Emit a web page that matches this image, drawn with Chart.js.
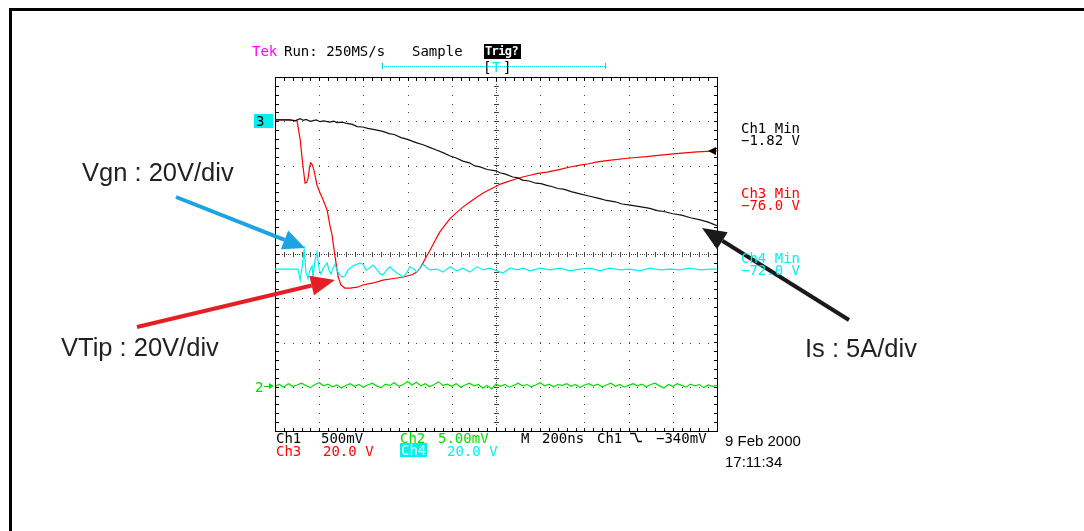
<!DOCTYPE html>
<html>
<head>
<meta charset="utf-8">
<script src="https://cdn.jsdelivr.net/npm/chart.js@4.4.1/dist/chart.umd.min.js"></script>
<style>
  html, body { margin: 0; padding: 0; background: #fff; }
  #wrap { position: relative; width: 1084px; height: 531px; overflow: hidden; }
  canvas { position: absolute; left: 0; top: 0; }
  .t { position: absolute; white-space: pre; line-height: 1; }
  .s { font-family: "DejaVu Sans Mono", monospace; font-size: 14px; color: #000; }
  .a { font-family: "Liberation Sans", Arial, sans-serif; font-size: 25.5px; color: #231f20; }
  .d { font-family: "Liberation Sans", Arial, sans-serif; font-size: 15px; color: #000; }
</style>
</head>
<body>
<div id="wrap">
  <canvas id="scope" width="1084" height="531"></canvas>

  <!-- scope header -->
  <div class="t s" style="left:252px;top:44px;color:#ff00ff">Tek</div>
  <div class="t s" style="left:284px;top:44px">Run: 250MS/s</div>
  <div class="t s" style="left:412px;top:44px">Sample</div>
  <div class="t s" style="left:484px;top:44px;width:37px;height:15px;background:#000;color:#fff;font-weight:bold;font-size:12px;letter-spacing:-0.6px;padding:1px 0 0 1px;box-sizing:border-box">Trig?</div>
  <div class="t s" style="left:483px;top:60px">[</div>
  <div class="t s" style="left:492px;top:60px;color:#00e5ee">T</div>
  <div class="t s" style="left:503px;top:60px">]</div>

  <!-- channel readouts on the right -->
  <div class="t s" style="left:741px;top:121px">Ch1 Min</div>
  <div class="t s" style="left:741px;top:133px">−1.82 V</div>
  <div class="t s" style="left:741px;top:186px;color:#ff0000">Ch3 Min</div>
  <div class="t s" style="left:741px;top:198px;color:#ff0000">−76.0 V</div>
  <div class="t s" style="left:741px;top:251px;color:#00f0f0">Ch4 Min</div>
  <div class="t s" style="left:741px;top:263px;color:#00f0f0">−72.0 V</div>

  <!-- bottom status lines -->
  <div class="t s" style="left:276px;top:431px">Ch1</div>
  <div class="t s" style="left:321px;top:431px">500mV</div>
  <div class="t s" style="left:400px;top:431px;color:#00dd00">Ch2</div>
  <div class="t s" style="left:438px;top:431px;color:#00dd00">5.00mV</div>
  <div class="t s" style="left:521px;top:431px">M</div>
  <div class="t s" style="left:542px;top:431px">200ns</div>
  <div class="t s" style="left:597px;top:431px">Ch1</div>
  <div class="t s" style="left:656px;top:431px">−340mV</div>
  <div class="t s" style="left:276px;top:444px;color:#ff0000">Ch3</div>
  <div class="t s" style="left:323px;top:444px;color:#ff0000">20.0 V</div>
  <div class="t s" style="left:400px;top:443px;width:27px;height:14px;background:#00f0f0;color:#fff;padding-left:1px;box-sizing:border-box">Ch4</div>
  <div class="t s" style="left:447px;top:444px;color:#00f0f0">20.0 V</div>
  <div class="t d" style="left:725px;top:433px">9 Feb 2000</div>
  <div class="t d" style="left:725px;top:454px">17:11:34</div>

  <!-- channel markers -->
  <div class="t s" style="left:254px;top:114px;width:19px;height:14px;background:#00f0f0;padding-left:2px;box-sizing:border-box">3</div>
  <div class="t s" style="left:255px;top:380px;color:#00dd00">2</div>

  <!-- annotations -->
  <div class="t a" style="left:82px;top:160px">Vgn : 20V/div</div>
  <div class="t a" style="left:61px;top:335px">VTip : 20V/div</div>
  <div class="t a" style="left:805px;top:336px">Is : 5A/div</div>
</div>

<script>
// time axis in divisions (200 ns/div), amplitude in divisions (8 div screen)
const ch1Time = [0, 0.34, 0.45, 0.57, 0.64, 0.70, 0.80, 0.93, 1.02, 1.10,
  1.24, 1.33, 1.40, 1.52, 1.63, 1.75, 1.86, 1.98, 2.10, 2.25,
  2.44, 2.58, 2.70, 2.85, 3.00, 3.10, 3.21, 3.35, 3.50, 3.65,
  3.80, 3.95, 4.10, 4.25, 4.40, 4.52, 4.64, 4.80, 5.00, 5.10,
  5.20, 5.38, 5.50, 5.60, 5.75, 5.90, 6.02, 6.15, 6.28, 6.40,
  6.55, 6.70, 6.90, 7.10, 7.35, 7.50, 7.70, 7.85, 8.00, 8.25,
  8.48, 8.65, 8.80, 9.00, 9.20, 9.40, 9.62, 9.80, 10.0];
const ch1Div = [3.03, 3.03, 3.01, 3.06, 3.02, 3.04, 3.00, 3.03, 2.99, 3.01,
  2.98, 3.00, 2.97, 2.98, 2.95, 2.93, 2.88, 2.87, 2.84, 2.81,
  2.77, 2.72, 2.70, 2.63, 2.59, 2.55, 2.51, 2.47, 2.41, 2.35,
  2.29, 2.22, 2.17, 2.10, 2.06, 1.99, 1.97, 1.91, 1.88, 1.83,
  1.81, 1.74, 1.72, 1.67, 1.65, 1.60, 1.59, 1.55, 1.52, 1.48,
  1.46, 1.41, 1.36, 1.31, 1.25, 1.21, 1.18, 1.13, 1.11, 1.07,
  1.03, 0.98, 0.96, 0.91, 0.88, 0.82, 0.77, 0.72, 0.64];

const ch3Time = [0, 0.30, 0.50, 0.57, 0.63, 0.68, 0.72, 0.75, 0.78, 0.81,
  0.84, 0.88, 0.95, 1.02, 1.09, 1.18, 1.24, 1.29, 1.36, 1.43,
  1.49, 1.58, 1.70, 1.86, 1.99, 2.20, 2.44, 2.65, 2.90, 3.10,
  3.21, 3.28, 3.35, 3.43, 3.51, 3.62, 3.73, 3.85, 3.96, 4.10,
  4.25, 4.40, 4.57, 4.75, 4.93, 5.10, 5.25, 5.43, 5.60, 5.77,
  5.95, 6.15, 6.40, 6.65, 6.90, 7.10, 7.29, 7.60, 8.03, 8.40,
  8.78, 9.20, 9.55, 10.0];
const ch3Div = [3.03, 3.03, 3.01, 2.58, 2.01, 1.60, 1.62, 1.72, 1.95, 2.06,
  2.02, 1.90, 1.56, 1.38, 1.22, 0.99, 0.66, 0.43, -0.07, -0.52,
  -0.70, -0.77, -0.77, -0.75, -0.70, -0.66, -0.59, -0.56, -0.52, -0.47,
  -0.41, -0.32, -0.20, -0.05, 0.09, 0.30, 0.50, 0.66, 0.80, 0.93,
  1.06, 1.17, 1.29, 1.40, 1.49, 1.58, 1.63, 1.69, 1.74, 1.78,
  1.82, 1.85, 1.90, 1.96, 2.01, 2.04, 2.08, 2.12, 2.17, 2.20,
  2.24, 2.28, 2.31, 2.33];

const ch4Time = [0, 0.52, 0.57, 0.61, 0.66, 0.70, 0.75, 0.79, 0.84, 0.86, 0.90, 0.95, 1.00, 1.04, 1.09, 1.13, 1.18, 1.22, 1.27, 1.31, 1.36, 1.40, 1.45, 1.52, 1.58, 1.65, 1.70, 1.76, 1.86, 1.92, 1.99, 2.06, 2.13, 2.22, 2.31, 2.38, 2.44, 2.53, 2.60, 2.67, 2.76, 2.83, 2.90, 2.99, 3.05, 3.14, 3.21, 3.28, 3.35, 3.44, 3.51, 3.67, 3.80, 3.96, 4.12, 4.25, 4.41, 4.57, 4.71, 4.86, 5.02, 5.16, 5.32, 5.48, 5.61, 5.77, 6.00, 6.22, 6.45, 6.67, 6.90, 7.13, 7.35, 7.58, 7.81, 8.03, 8.26, 8.48, 8.71, 8.94, 9.16, 9.39, 9.62, 9.84, 10.0];
const ch4Div = [-0.34, -0.34, -0.59, -0.32, 0.09, -0.41, -0.56, -0.36, -0.27, -0.54, -0.18, 0.05, -0.36, -0.45, -0.32, -0.27, -0.20, -0.36, -0.45, -0.32, -0.23, -0.36, -0.45, -0.52, -0.50, -0.36, -0.32, -0.27, -0.23, -0.20, -0.23, -0.36, -0.32, -0.25, -0.36, -0.45, -0.47, -0.36, -0.29, -0.36, -0.43, -0.47, -0.52, -0.41, -0.29, -0.34, -0.41, -0.32, -0.23, -0.32, -0.36, -0.34, -0.41, -0.29, -0.38, -0.32, -0.41, -0.29, -0.36, -0.32, -0.38, -0.43, -0.32, -0.36, -0.32, -0.38, -0.32, -0.36, -0.32, -0.38, -0.34, -0.32, -0.38, -0.32, -0.36, -0.34, -0.38, -0.32, -0.36, -0.34, -0.36, -0.32, -0.36, -0.34, -0.34];

const ch2Time = [0.02, 0.1, 0.2, 0.3, 0.4, 0.5, 0.6, 0.7, 0.8, 0.9, 1.0,
  1.1, 1.2, 1.3, 1.4, 1.5, 1.6, 1.7, 1.8, 1.9, 2.0,
  2.1, 2.2, 2.3, 2.4, 2.5, 2.6, 2.7, 2.8, 2.9, 3.0,
  3.1, 3.2, 3.3, 3.4, 3.5, 3.6, 3.7, 3.8, 3.9, 4.0,
  4.1, 4.2, 4.3, 4.4, 4.5, 4.6, 4.7, 4.8, 4.9, 5.0,
  5.1, 5.2, 5.3, 5.4, 5.5, 5.6, 5.7, 5.8, 5.9, 6.0,
  6.1, 6.2, 6.3, 6.4, 6.5, 6.6, 6.7, 6.8, 6.9, 7.0,
  7.1, 7.2, 7.3, 7.4, 7.5, 7.6, 7.7, 7.8, 7.9, 8.0,
  8.1, 8.2, 8.3, 8.4, 8.5, 8.6, 8.7, 8.8, 8.9, 9.0,
  9.1, 9.2, 9.3, 9.4, 9.5, 9.6, 9.7, 9.8, 9.9, 10.0];
const ch2Div = [-2.98, -2.95, -3.01, -2.93, -2.99, -2.96, -2.92, -2.97, -3.02, -2.95, -2.91,
  -2.98, -2.94, -3.00, -2.96, -3.03, -2.97, -2.93, -2.99, -2.95, -3.01,
  -2.96, -2.92, -2.98, -3.02, -2.94, -2.97, -2.91, -2.99, -2.95, -2.88,
  -2.96, -2.90, -2.98, -2.93, -3.00, -2.95, -2.89, -2.97, -2.94, -2.99,
  -2.93, -3.01, -2.96, -2.92, -2.98, -2.95, -3.03, -2.97, -3.05, -2.94,
  -2.99, -2.95, -3.01, -2.97, -2.92, -2.98, -2.95, -3.00, -2.96, -2.91,
  -2.98, -2.94, -3.00, -2.95, -2.97, -2.93, -2.99, -2.95, -3.02, -2.96,
  -2.93, -2.98, -2.94, -3.00, -2.96, -2.92, -2.99, -2.95, -3.01, -2.97,
  -2.93, -2.98, -2.94, -3.00, -2.95, -2.92, -2.98, -3.03, -2.95, -2.99,
  -2.93, -2.97, -3.01, -2.94, -2.98, -2.95, -3.02, -2.96, -2.99, -2.97];

const xDivs = 10;
const yDivs = 8;

function pts(t, v) {
  return t.map((x, i) => ({ x: x, y: v[i] }));
}

// dotted graticule like the scope screen
const graticule = {
  id: "graticule",
  beforeDatasetsDraw(chart) {
    const ctx = chart.ctx;
    const xs = chart.scales.x;
    const ys = chart.scales.y;
    const a = chart.chartArea;
    ctx.save();
    ctx.fillStyle = "#444";
    for (let i = 1; i < xDivs; i++) {
      if (i === xDivs / 2) continue;
      const px = Math.round(xs.getPixelForValue(i));
      for (let j = -yDivs / 2; j <= yDivs / 2 + 0.001; j += 0.2) {
        ctx.fillRect(px, Math.round(ys.getPixelForValue(j)), 1, 1);
      }
    }
    for (let j = -yDivs / 2 + 1; j < yDivs / 2; j++) {
      if (j === 0) continue;
      const py = Math.round(ys.getPixelForValue(j));
      for (let i = 0; i <= xDivs + 0.001; i += 0.2) {
        ctx.fillRect(Math.round(xs.getPixelForValue(i)), py, 1, 1);
      }
    }
    // centre lines
    const cx = Math.round(xs.getPixelForValue(xDivs / 2));
    const cy = Math.round(ys.getPixelForValue(0));
    for (let j = -yDivs / 2; j <= yDivs / 2 + 0.001; j += 0.05) {
      ctx.fillRect(cx, Math.round(ys.getPixelForValue(j)), 1, 1);
    }
    for (let i = 0; i <= xDivs + 0.001; i += 0.05) {
      ctx.fillRect(Math.round(xs.getPixelForValue(i)), cy, 1, 1);
    }
    for (let j = -yDivs / 2; j <= yDivs / 2 + 0.001; j += 0.2) {
      ctx.fillRect(cx - 2, Math.round(ys.getPixelForValue(j)), 5, 1);
    }
    for (let i = 0; i <= xDivs + 0.001; i += 0.2) {
      ctx.fillRect(Math.round(xs.getPixelForValue(i)), cy - 2, 1, 5);
    }
    // frame with ticks
    ctx.fillStyle = "#000";
    ctx.fillRect(Math.round(a.left), Math.round(a.top), Math.round(a.right - a.left) + 1, 1);
    ctx.fillRect(Math.round(a.left), Math.round(a.bottom), Math.round(a.right - a.left) + 1, 1);
    ctx.fillRect(Math.round(a.left), Math.round(a.top), 1, Math.round(a.bottom - a.top) + 1);
    ctx.fillRect(Math.round(a.right), Math.round(a.top), 1, Math.round(a.bottom - a.top) + 1);
    for (let i = 0; i <= xDivs + 0.001; i += 0.2) {
      const px = Math.round(xs.getPixelForValue(i));
      ctx.fillRect(px, Math.round(a.top), 1, 4);
      ctx.fillRect(px, Math.round(a.bottom) - 3, 1, 4);
    }
    for (let j = -yDivs / 2; j <= yDivs / 2 + 0.001; j += 0.2) {
      const py = Math.round(ys.getPixelForValue(j));
      ctx.fillRect(Math.round(a.left), py, 4, 1);
      ctx.fillRect(Math.round(a.right) - 3, py, 4, 1);
    }
    ctx.restore();
  }
};

function arrow(ctx, x1, y1, x2, y2, color, w, hl, hw) {
  const ang = Math.atan2(y2 - y1, x2 - x1);
  const bx = x2 - Math.cos(ang) * hl;
  const by = y2 - Math.sin(ang) * hl;
  ctx.strokeStyle = color;
  ctx.fillStyle = color;
  ctx.lineWidth = w;
  ctx.beginPath();
  ctx.moveTo(x1, y1);
  ctx.lineTo(bx, by);
  ctx.stroke();
  ctx.beginPath();
  ctx.moveTo(x2, y2);
  ctx.lineTo(bx + Math.sin(ang) * hw / 2, by - Math.cos(ang) * hw / 2);
  ctx.lineTo(bx - Math.sin(ang) * hw / 2, by + Math.cos(ang) * hw / 2);
  ctx.closePath();
  ctx.fill();
}

// page frame, markers and the hand drawn arrows
const overlay = {
  id: "overlay",
  afterDraw(chart) {
    const ctx = chart.ctx;
    ctx.save();
    ctx.strokeStyle = "#000";
    ctx.lineWidth = 3;
    ctx.beginPath();
    ctx.moveTo(1090, 9.5);
    ctx.lineTo(10.5, 9.5);
    ctx.lineTo(10.5, 540);
    ctx.stroke();

    // record length bar
    ctx.fillStyle = "#00d8e0";
    for (let x = 382; x <= 605; x += 2) ctx.fillRect(x, 66, 1, 1);
    ctx.fillRect(382, 63, 1, 6);
    ctx.fillRect(605, 63, 1, 6);

    // trigger level marker
    ctx.fillStyle = "#000";
    ctx.beginPath();
    ctx.moveTo(708, 151);
    ctx.lineTo(716, 147);
    ctx.lineTo(716, 155);
    ctx.closePath();
    ctx.fill();

    // ground markers
    ctx.fillStyle = "#00dd00";
    ctx.fillRect(264, 121, 6, 1);
    ctx.beginPath();
    ctx.moveTo(274, 121); ctx.lineTo(269, 118); ctx.lineTo(269, 124); ctx.closePath(); ctx.fill();
    ctx.fillRect(264, 386, 6, 1);
    ctx.beginPath();
    ctx.moveTo(274, 386); ctx.lineTo(269, 383); ctx.lineTo(269, 389); ctx.closePath(); ctx.fill();

    // falling edge symbol
    ctx.strokeStyle = "#000";
    ctx.lineWidth = 1.3;
    ctx.beginPath();
    ctx.moveTo(630, 433.5); ctx.lineTo(635, 433.5); ctx.lineTo(638, 441.5); ctx.lineTo(642, 441.5);
    ctx.stroke();

    arrow(ctx, 176, 197, 305, 248, "#1ba3e2", 4, 22, 20);
    arrow(ctx, 137, 327, 335, 280, "#e51f26", 4, 24, 20);
    arrow(ctx, 849, 320, 702, 228, "#1a1a1a", 4, 24, 20);
    ctx.restore();
  }
};

new Chart(document.getElementById("scope"), {
  type: "line",
  data: {
    datasets: [
      { label: "Ch2", data: pts(ch2Time, ch2Div), borderColor: "#00e000", borderWidth: 1.2 },
      { label: "Ch4 Vgn", data: pts(ch4Time, ch4Div), borderColor: "#00f0f0", borderWidth: 1.2 },
      { label: "Ch1 Is", data: pts(ch1Time, ch1Div), borderColor: "#111", borderWidth: 1.2 },
      { label: "Ch3 VTip", data: pts(ch3Time, ch3Div), borderColor: "#ff0000", borderWidth: 1.2 }
    ]
  },
  options: {
    responsive: false,
    animation: false,
    layout: { padding: { left: 275, right: 367, top: 77, bottom: 100 } },
    elements: { point: { radius: 0 }, line: { tension: 0 } },
    plugins: { legend: { display: false }, tooltip: { enabled: false } },
    scales: {
      x: { type: "linear", min: 0, max: xDivs, display: false },
      y: { type: "linear", min: -yDivs / 2, max: yDivs / 2, display: false }
    }
  },
  plugins: [graticule, overlay]
});
</script>
</body>
</html>
